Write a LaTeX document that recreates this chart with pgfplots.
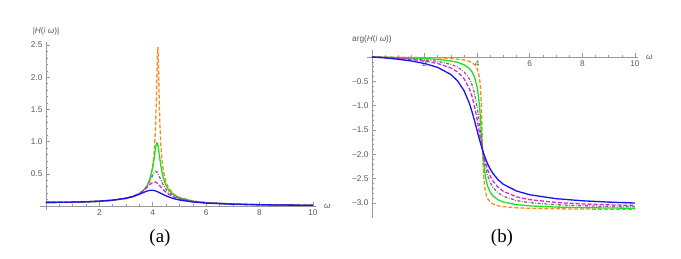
\documentclass[border=0pt]{standalone}
\usepackage{fontspec}
\setmainfont{Liberation Serif}
\newfontfamily\tickfont{Liberation Sans}
\usepackage{pgfplots}
\pgfplotsset{compat=1.18}
\definecolor{cOr}{RGB}{245,140,30}
\definecolor{cGr}{RGB}{30,225,30}
\definecolor{cGy}{RGB}{115,115,115}
\definecolor{cMg}{RGB}{225,30,225}
\definecolor{cBl}{RGB}{20,20,235}
\newcommand{\lblfont}{\tickfont\fontsize{8.3}{10}\selectfont\color{black!65}}
\pgfplotsset{mstyle/.style={scale only axis, axis lines=middle,
  axis line style={draw=black!40, line width=0.8pt, -},
  tick style={draw=black!40, line width=0.6pt},
  major tick length=4bp, minor tick length=2.5bp, tick align=inside,
  tick label style={font=\lblfont},
  clip=false,
  every axis plot/.append style={line width=1.3pt}},
  odash/.style={dash pattern=on 4pt off 2pt},
  gdash/.style={dash pattern=on 3pt off 1.5pt on 0.8pt off 1.5pt}}
\begin{document}
\begin{tikzpicture}
\path[use as bounding box] (0bp,0bp) rectangle (681bp,259bp);
% ---------------- (a) magnitude
\begin{axis}[mstyle, at={(40.1bp,49.1bp)}, anchor=south west,
  width=275.5bp, height=168bp,
  xmin=-0.22, xmax=10.1, ymin=-0.06, ymax=2.55,
  xtick={0,2,4,6,8,10}, xticklabels={,2,4,6,8,10}, minor x tick num=3,
  ytick={0,0.5,1,1.5,2,2.5}, yticklabels={,0.5,1.0,1.5,2.0,2.5}, minor y tick num=4,
  xlabel={\textit{ω}}, ylabel={|\textit{H}(\textit{i ω})|},
  every axis x label/.style={at={(axis cs:10.1,0)}, anchor=west, xshift=5bp, font=\lblfont},
  every axis y label/.style={at={(axis cs:0,2.55)}, anchor=south, yshift=3bp, font=\lblfont}]
\addplot[cOr, odash] coordinates {(0,0.0565)(0.5,0.0573)(1,0.0600)(1.5,0.0649)(2,0.0733)(2.5,0.0879)(3,0.1162)(3.25,0.1421)(3.5,0.1872)(3.7,0.2564)(3.8,0.3174)(3.9,0.4192)(4,0.6217)(4.05,0.819)(4.1,1.1825)(4.12,1.418)(4.14,1.733)(4.16,2.114)(4.17,2.295)(4.18,2.425)(4.19,2.468)(4.2,2.407)(4.21,2.262)(4.22,2.074)(4.24,1.69)(4.26,1.378)(4.28,1.145)(4.3,0.9714)(4.35,0.6948)(4.4,0.5361)(4.5,0.3643)(4.6,0.2738)(4.8,0.1807)(5,0.1334)(5.5,0.0783)(6,0.0540)(7,0.0317)(8,0.0215)(9,0.0157)(10,0.0121)};
\addplot[cGr] coordinates {(0,0.0565)(0.5,0.0574)(1,0.0601)(1.5,0.0652)(2,0.0738)(2.5,0.0888)(3,0.1179)(3.25,0.1448)(3.5,0.1916)(3.7,0.2634)(3.8,0.3257)(3.9,0.4259)(4,0.6014)(4.05,0.7334)(4.1,0.8837)(4.13,0.9553)(4.15,0.9794)(4.17,0.9782)(4.2,0.9298)(4.25,0.7816)(4.3,0.6331)(4.35,0.5167)(4.4,0.4303)(4.5,0.3166)(4.6,0.2474)(4.8,0.1694)(5,0.1272)(5.5,0.0761)(6,0.0528)(7,0.0312)(8,0.0212)(9,0.0156)(10,0.0120)};
\addplot[cGy, gdash] coordinates {(0,0.0565)(0.5,0.0575)(1,0.0603)(1.5,0.0655)(2,0.0744)(2.5,0.0898)(3,0.1199)(3.25,0.1475)(3.5,0.1948)(3.7,0.2638)(3.8,0.3183)(3.9,0.3927)(4,0.4817)(4.05,0.5194)(4.1,0.5389)(4.15,0.532)(4.2,0.5009)(4.25,0.4556)(4.3,0.4069)(4.4,0.3209)(4.5,0.2573)(4.6,0.2116)(4.8,0.153)(5,0.118)(5.5,0.0727)(6,0.0511)(7,0.0305)(8,0.0208)(9,0.0153)(10,0.0118)};
\addplot[cMg, odash] coordinates {(0,0.0565)(0.5,0.0576)(1,0.0605)(1.5,0.0658)(2,0.0749)(2.5,0.0907)(3,0.1213)(3.25,0.1488)(3.5,0.1941)(3.7,0.2534)(3.8,0.2931)(3.9,0.3357)(4,0.3686)(4.05,0.3751)(4.1,0.3725)(4.15,0.361)(4.2,0.3427)(4.25,0.3203)(4.3,0.2964)(4.4,0.2506)(4.5,0.2121)(4.6,0.1813)(4.8,0.1374)(5,0.1088)(5.5,0.0692)(6,0.0493)(7,0.0298)(8,0.0205)(9,0.0151)(10,0.0117)};
\addplot[cBl] coordinates {(0,0.0565)(0.5,0.0577)(1,0.0608)(1.5,0.0664)(2,0.0758)(2.5,0.092)(3,0.1222)(3.25,0.1474)(3.5,0.1835)(3.7,0.2186)(3.8,0.2341)(3.9,0.2438)(4,0.2444)(4.05,0.2409)(4.1,0.235)(4.2,0.218)(4.3,0.1975)(4.4,0.1767)(4.5,0.1576)(4.6,0.1407)(4.8,0.1136)(5,0.0937)(5.5,0.0629)(6,0.0459)(7,0.0285)(8,0.0198)(9,0.0147)(10,0.0114)};
\end{axis}
% ---------------- (b) phase
\begin{axis}[mstyle, at={(366.7bp,41.3bp)}, anchor=south west,
  width=270.9bp, height=168bp,
  xmin=-0.2, xmax=10.1, ymin=-3.3, ymax=0.15,
  xtick={0,2,4,6,8,10}, xticklabels={,2,4,6,8,10}, minor x tick num=3,
  ytick={-3,-2.5,-2,-1.5,-1,-0.5,0}, yticklabels={−3.0,−2.5,−2.0,−1.5,−1.0,−0.5,}, minor y tick num=4,
  xlabel={\textit{ω}}, ylabel={arg(\textit{H}(\textit{i ω}))},
  every axis x label/.style={at={(axis cs:10.1,0)}, anchor=west, xshift=5bp, font=\lblfont},
  every axis y label/.style={at={(axis cs:0,0.15)}, anchor=south, yshift=3bp, font=\lblfont}]
\addplot[cOr, odash] coordinates {(0,0)(0.5,-0.0017)(1,-0.0042)(1.5,-0.0075)(2,-0.0121)(2.5,-0.019)(3,-0.0313)(3.25,-0.0422)(3.5,-0.0609)(3.7,-0.0894)(3.8,-0.1144)(3.9,-0.1563)(4,-0.2404)(4.05,-0.3243)(4.1,-0.4856)(4.12,-0.5984)(4.14,-0.7643)(4.16,-1.015)(4.17,-1.1798)(4.18,-1.3704)(4.19,-1.5757)(4.2,-1.78)(4.21,-1.968)(4.22,-2.13)(4.24,-2.3735)(4.26,-2.5357)(4.28,-2.6454)(4.3,-2.7233)(4.35,-2.842)(4.4,-2.909)(4.5,-2.98)(4.6,-3.017)(4.8,-3.055)(5,-3.0745)(5.5,-3.0973)(6,-3.1077)(7,-3.1176)(8,-3.1225)(9,-3.1254)(10,-3.1274)};
\addplot[cGr] coordinates {(0,0)(0.5,-0.0044)(1,-0.0107)(1.5,-0.0191)(2,-0.0307)(2.5,-0.0485)(3,-0.0806)(3.25,-0.1092)(3.5,-0.1586)(3.7,-0.2345)(3.8,-0.3013)(3.9,-0.4124)(4,-0.6229)(4.05,-0.8073)(4.1,-1.0832)(4.13,-1.3008)(4.15,-1.4608)(4.17,-1.626)(4.2,-1.8637)(4.25,-2.1862)(4.3,-2.4063)(4.35,-2.553)(4.4,-2.6535)(4.5,-2.7788)(4.6,-2.8529)(4.8,-2.9348)(5,-2.9789)(5.5,-3.0325)(6,-3.0575)(7,-3.0816)(8,-3.0937)(9,-3.101)(10,-3.106)};
\addplot[cGy, gdash] coordinates {(0,0)(0.5,-0.0081)(1,-0.0199)(1.5,-0.0354)(2,-0.0571)(2.5,-0.0906)(3,-0.1514)(3.25,-0.206)(3.5,-0.3005)(3.7,-0.4427)(3.8,-0.5637)(3.9,-0.7484)(4,-1.0368)(4.05,-1.23)(4.1,-1.4483)(4.15,-1.6751)(4.2,-1.8885)(4.25,-2.0723)(4.3,-2.2235)(4.4,-2.4413)(4.5,-2.5816)(4.6,-2.6763)(4.8,-2.7931)(5,-2.8611)(5.5,-2.9488)(6,-2.9913)(7,-3.0334)(8,-3.0548)(9,-3.0678)(10,-3.0768)};
\addplot[cMg, odash] coordinates {(0,0)(0.5,-0.0118)(1,-0.029)(1.5,-0.0518)(2,-0.0839)(2.5,-0.1335)(3,-0.2241)(3.25,-0.3055)(3.5,-0.4438)(3.7,-0.6434)(3.8,-0.7993)(3.9,-1.0115)(4,-1.2856)(4.05,-1.441)(4.1,-1.5993)(4.15,-1.7535)(4.2,-1.897)(4.25,-2.0261)(4.3,-2.1385)(4.4,-2.3186)(4.5,-2.4502)(4.6,-2.5471)(4.8,-2.6783)(5,-2.7604)(5.5,-2.8727)(6,-2.9296)(7,-2.9873)(8,-3.0172)(9,-3.0356)(10,-3.0484)};
\addplot[cBl] coordinates {(0,0)(0.5,-0.0186)(1,-0.0458)(1.5,-0.0821)(2,-0.1334)(2.5,-0.2134)(3,-0.3591)(3.25,-0.4866)(3.5,-0.6908)(3.7,-0.9471)(3.8,-1.1158)(3.9,-1.309)(4,-1.5148)(4.05,-1.618)(4.1,-1.7184)(4.2,-1.9041)(4.3,-2.0639)(4.4,-2.196)(4.5,-2.304)(4.6,-2.3922)(4.8,-2.5235)(5,-2.6152)(5.5,-2.7529)(6,-2.8288)(7,-2.9095)(8,-2.9526)(9,-2.9797)(10,-2.9986)};
\end{axis}
\node[font=\fontsize{19}{22}\selectfont] at (160bp,21bp) {(a)};
\node[font=\fontsize{19}{22}\selectfont] at (502bp,21bp) {(b)};
\end{tikzpicture}
\end{document}
